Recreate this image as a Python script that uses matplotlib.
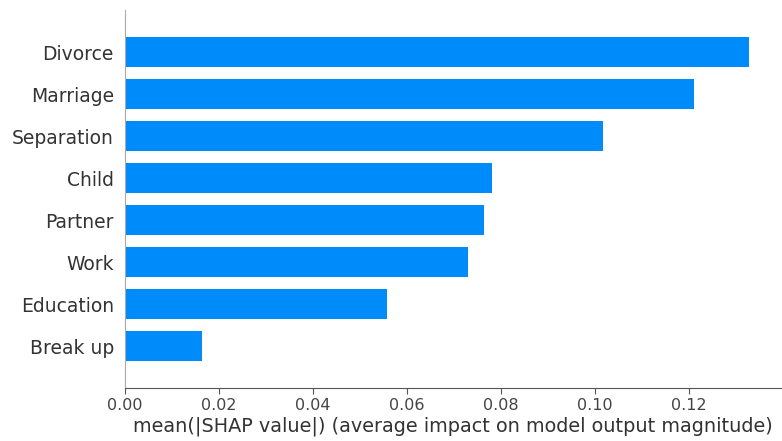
import matplotlib
matplotlib.use("Agg")
import matplotlib.pyplot as plt

features = ["Break up", "Education", "Work", "Partner", "Child", "Separation", "Marriage", "Divorce"]
values = [0.0164, 0.0558, 0.0730, 0.0764, 0.0780, 0.1017, 0.1210, 0.1326]
xticks = [0.00, 0.02, 0.04, 0.06, 0.08, 0.10, 0.12]
xlabel = "mean(|SHAP value|) (average impact on model output magnitude)"

fig = plt.figure(figsize=(7.82, 4.41), dpi=100)
ax = fig.add_axes([125/782, 1 - 388/441, (781-125)/782, (388-10)/441])

pos = list(range(len(features)))
ax.barh(pos, values, 0.7, color="#008bfb", align="center")
ax.set_yticks(pos)
ax.set_yticklabels(features, fontsize=13.5, color="#333333")
ax.set_ylim(-1, len(features))
ax.set_xlim(0, 0.1395)
ax.set_xticks(xticks)
ax.set_xticklabels([f"{t:.2f}" for t in xticks], fontsize=11.5, color="#444444")
ax.set_xlabel(xlabel, fontsize=13.85, color="#333333", labelpad=3)

for s in ["right", "top"]:
    ax.spines[s].set_visible(False)
ax.spines["left"].set_color("#aaaaaa")
ax.spines["bottom"].set_color("#555555")
ax.tick_params("y", length=0, pad=8)
ax.tick_params("x", length=4, color="#555555", pad=3)

fig.savefig("out.png", dpi=100)
